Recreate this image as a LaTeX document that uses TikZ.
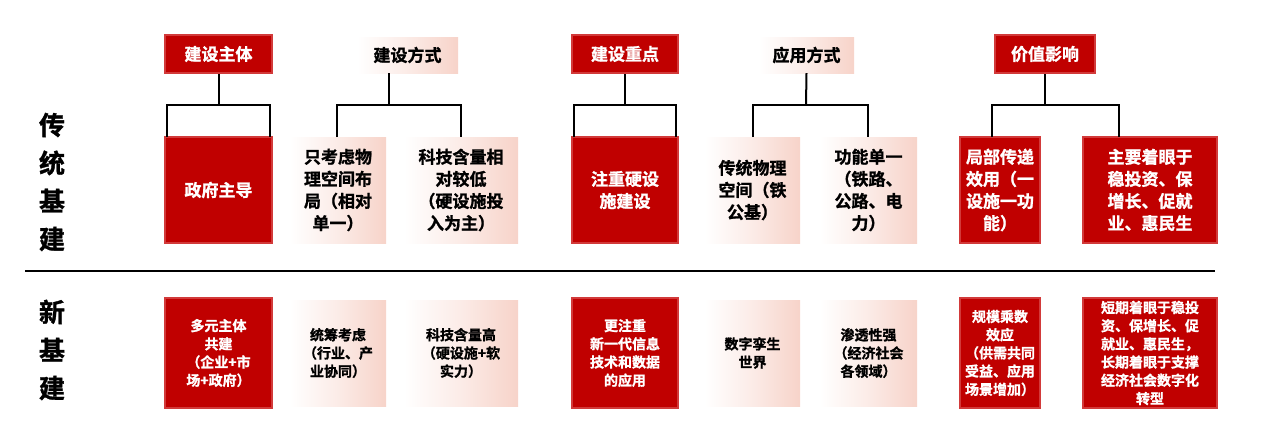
\documentclass[tikz,border=0pt]{standalone}
\usepackage{fontspec}
\setmainfont{Noto Sans CJK SC}[BoldFont={Noto Sans CJK SC Bold},BoldFeatures={FakeBold=1.2}]
\usetikzlibrary{positioning}
\definecolor{dred}{HTML}{C00000}
\definecolor{bred}{HTML}{D23A3A}
\definecolor{pinkr}{HTML}{F7D3C9}
\tikzset{
 redbox/.style={draw=bred,line width=2.5pt,fill=dred,text=white,font=\bfseries\fontsize{#1}{\the\dimexpr#1pt*13/10\relax}\selectfont,align=center,inner sep=0pt},
 litebox/.style={left color=white,right color=pinkr,middle color=pinkr!45,text=black,font=\bfseries\fontsize{#1}{\the\dimexpr#1pt*13/10\relax}\selectfont,align=center,inner sep=0pt},
 conn/.style={line width=2pt,black}
}
\newcommand{\bx}[6]{\node[#1=#6,minimum width=#3pt-#2pt,minimum height=#5pt-#4pt,text width=\dimexpr#3pt-#2pt-8pt\relax] at ({(#2+#3)/2},{(#4+#5)/2})}
\begin{document}
\begin{tikzpicture}[x=1pt,y=-1pt]
\useasboundingbox (0,0) rectangle (1283,434);
% headers
\bx{redbox}{165}{272}{35}{73}{17} (h1) {建设主体};
\bx{litebox}{357}{458}{37}{73}{17} (h2) {建设方式};
\bx{redbox}{572}{678}{35}{73}{17} (h3) {建设重点};
\bx{litebox}{759}{854}{37}{73}{17} (h4) {应用方式};
\bx{redbox}{995}{1095}{35}{73}{17} (h5) {价值影响};
% top row
\bx{redbox}{165}{272}{137}{243}{17} (a1) {政府主导};
\bx{litebox}{290}{386}{137}{243}{17} (a2) {只考虑物\\理空间布\\局（相对\\单一）};
\bx{litebox}{404}{518}{137}{243}{17} (a3) {科技含量相\\对较低\\（硬设施投\\入为主）};
\bx{redbox}{572}{678}{137}{243}{17} (a4) {注重硬设\\施建设};
\bx{litebox}{705}{800}{137}{243}{17} (a5) {传统物理\\空间（铁\\公基）};
\bx{litebox}{820}{917}{137}{243}{17} (a6) {功能单一\\（铁路、\\公路、电\\力）};
\bx{redbox}{960}{1040}{137}{243}{17} (a7) {局部传递\\效用（一\\设施一功\\能）};
\bx{redbox}{1083}{1217}{137}{243}{17} (a8) {主要着眼于\\稳投资、保\\增长、促就\\业、惠民生};
% brackets
\coordinate (j1) at (218.5,105); \draw[conn] (h1.south) -- (j1); \draw[conn] (167,137) |- (j1) -| (270,137);
\coordinate (j2) at (389,105); \draw[conn] (h2.south -| j2) -- (j2); \draw[conn] (337,137) |- (j2) -| (461,137);
\coordinate (j3) at (625,105); \draw[conn] (h3.south) -- (j3); \draw[conn] (574,137) |- (j3) -| (676,137);
\coordinate (j4) at (806,105); \draw[conn] (h4.south) -- (j4); \draw[conn] (753,137) |- (j4) -| (868,137);
\coordinate (j5) at (1045,105); \draw[conn] (h5.south) -- (j5); \draw[conn] (992,137) |- (j5) -| (1119,137);
% bottom row
\bx{redbox}{165}{272}{298}{408}{14} (b1) {多元主体\\共建\\（企业+市\\场+政府）};
\bx{litebox}{290}{386}{300}{406}{14} (b2) {统筹考虑\\（行业、产\\业协同）};
\bx{litebox}{404}{518}{300}{406}{14} (b3) {科技含量高\\（硬设施+软\\实力）};
\bx{redbox}{572}{678}{298}{408}{14} (b4) {更注重\\新一代信息\\技术和数据\\的应用};
\bx{litebox}{705}{800}{300}{406}{14} (b5) {数字孪生\\世界};
\bx{litebox}{820}{917}{300}{406}{14} (b6) {渗透性强\\（经济社会\\各领域）};
\bx{redbox}{960}{1040}{298}{408}{14} (b7) {规模乘数\\效应\\（供需共同\\受益、应用\\场景增加）};
\bx{redbox}{1083}{1217}{298}{408}{14} (b8) {短期着眼于稳投\\资、保增长、促\\就业、惠民生，\\长期着眼于支撑\\经济社会数字化\\转型};
% left labels
\node[font=\bfseries\fontsize{26}{38}\selectfont,align=center] (l1) at (52,182) {传\\统\\基\\建};
\node[font=\bfseries\fontsize{26}{38}\selectfont,align=center] (l2) at (52,350) {新\\基\\建};
\coordinate (s1) at (25,271); \coordinate (s2) at (1215,271);
\draw[line width=2.5pt] (s1) -- (s2);
\end{tikzpicture}
\end{document}
